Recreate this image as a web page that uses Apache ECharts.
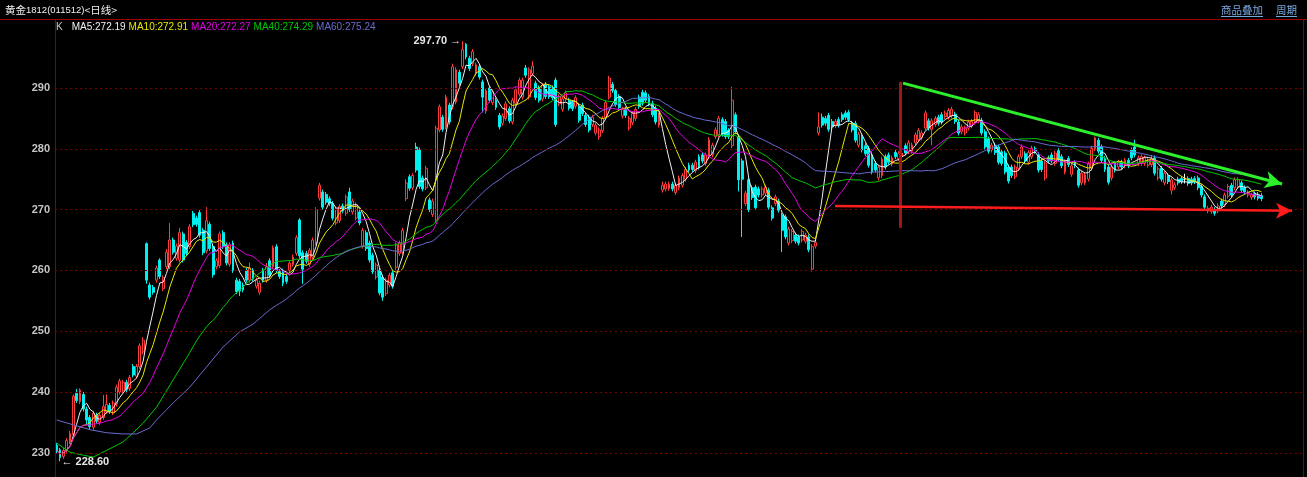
<!DOCTYPE html>
<html><head><meta charset="utf-8">
<script src="https://cdn.jsdelivr.net/npm/echarts/dist/echarts.min.js"></script>
<style>html,body{margin:0;padding:0;background:#000;}#c{width:1307px;height:477px;}</style>
</head><body><div id="c"></div><script>
// candle rows: [open, close, low, high]
const segStart = [
[231.2,230.4,229.8,231.6],[230.5,229.2,228.6,230.8],[229.4,230.4,229.0,230.8],[230.4,232.0,230.0,232.4],
[231.8,233.2,231.4,233.6],[233.0,239.3,232.8,239.6],[239.8,238.6,238.2,240.5],[238.4,240.3,238.0,240.6],
[239.6,237.2,236.8,240.0],[237.2,235.4,234.6,237.6],[235.8,234.3,233.8,236.2],[234.2,236.5,233.8,236.9],
[236.2,235.2,234.8,236.6],[235.0,236.2,234.6,236.6],[235.8,237.6,235.4,239.5],[236.8,238.0,236.4,239.6],
[237.8,236.8,236.4,238.2],[236.6,238.2,236.2,238.6],[238.0,240.8,237.6,241.2],[240.0,241.8,239.6,242.2],
[240.2,241.6,239.8,242.0],[241.6,240.4,239.8,242.0],[240.6,242.4,240.2,242.8],[244.2,242.8,242.4,244.6],
[242.6,244.2,242.2,244.6],[244.2,247.6,243.8,248.0],[246.6,248.5,246.2,249.0]
];
const segBreakout = [
[264.4,258.4,257.8,264.6],[257.6,255.6,255.2,258.0],[257.2,256.4,256.0,257.6],[258.4,260.4,258.0,260.8],
[261.7,259.0,258.6,262.0],[257.0,258.8,256.6,259.2],[260.6,263.0,260.2,263.5],[260.6,265.0,260.2,267.8],
[265.0,263.0,262.6,265.4],[262.0,264.0,261.6,264.4],[261.7,266.2,261.3,267.0],[266.0,261.7,261.3,266.4],
[264.6,262.8,262.4,265.0],[263.9,267.2,263.5,267.6],[269.4,267.5,267.1,269.8],[268.6,267.6,267.2,269.0],
[269.5,265.8,265.4,269.9],[266.6,262.9,262.5,267.0],[263.2,268.2,262.8,270.4],[267.6,263.6,263.2,268.0],
[263.9,259.3,258.8,264.3],[260.6,261.6,260.2,262.0],[260.8,266.0,260.4,266.4],[266.2,263.9,263.5,266.6],
[264.2,261.2,260.8,264.6],[261.0,264.2,260.6,264.6],[264.5,260.0,259.6,264.9],[258.4,256.5,256.1,258.8],
[258.2,256.6,255.8,258.6],[257.6,256.8,256.4,258.0],[260.0,258.4,258.0,260.4],[258.4,260.4,258.0,261.3],
[260.0,258.6,258.2,260.4],[257.4,258.4,257.0,258.8],[256.4,257.9,256.0,258.3],[260.0,258.4,258.0,260.4],
[258.4,260.6,258.0,261.2],[261.6,259.2,258.8,262.0],[260.6,263.7,260.2,264.1],[263.9,260.0,259.6,264.3]
];
const segBase = [
[259.8,259.0,258.6,260.2],[259.9,257.9,257.4,260.3],[259.0,258.2,257.8,259.4],[260.0,261.2,259.6,261.6],
[261.0,262.2,260.6,262.6],[262.8,265.4,262.4,265.8],[268.3,262.4,262.0,268.6],[262.9,260.2,257.8,263.3],
[262.8,261.5,261.1,263.2],[261.0,263.3,260.6,263.7],[262.2,265.0,261.8,265.4],[264.5,270.0,264.1,270.4],
[271.9,274.0,271.5,274.4],[272.9,270.4,270.0,273.3],[272.5,271.2,270.8,272.9],[271.8,271.0,270.6,272.2],
[271.0,268.6,268.2,271.4],[267.8,270.0,267.4,270.4],[268.2,270.5,267.8,270.9],[270.6,269.8,269.4,271.0],
[269.4,272.1,269.0,272.5],[272.9,270.0,269.6,273.6],[269.6,271.4,269.2,271.8],[268.6,270.8,268.2,271.2],
[269.6,267.8,267.4,270.0],[264.0,266.6,263.6,267.0],[266.2,263.6,263.2,266.6],[264.5,261.7,261.3,264.9],
[262.5,259.8,259.4,262.9],[258.9,260.9,258.5,261.3],[260.0,256.3,255.9,260.4],[258.9,255.6,255.0,259.3],
[256.2,258.4,255.8,258.8],[257.6,259.2,257.2,259.6],[259.6,257.4,257.0,260.0],[260.5,264.2,260.1,264.6],
[262.8,264.5,262.4,264.9],[263.0,266.6,262.6,267.0]
];
const segPeak = [
[271.8,274.4,271.4,275.0],[275.4,273.5,273.1,275.8],[273.6,275.6,273.2,276.0],[280.3,276.5,276.1,281.0],
[279.8,273.8,273.4,280.2],[275.2,273.4,273.0,275.6],[273.6,276.8,273.2,277.2],[271.6,270.0,269.6,272.0],
[269.2,271.4,268.8,271.8],[268.3,283.4,267.8,283.8],[283.1,286.9,282.7,287.3],[285.2,283.2,282.8,285.6],
[283.6,288.5,283.2,288.9],[287.2,284.4,284.0,287.6],[286.9,293.5,286.5,294.0],[287.7,293.0,287.3,293.4],
[292.6,290.8,290.4,293.0],[293.5,296.3,293.1,297.7],[297.2,295.1,294.7,297.4],[294.9,293.2,292.8,295.3],
[294.0,296.0,293.6,296.4],[292.4,293.8,292.0,294.2],[293.5,291.8,291.4,293.9],[291.0,288.5,286.0,291.4],
[286.2,289.6,285.8,290.0],[290.0,288.0,287.6,290.4],[287.6,289.4,287.2,289.8],[288.0,286.8,286.4,288.4],
[285.5,283.6,283.2,285.9],[284.2,285.4,283.8,285.8],[285.0,287.4,284.6,287.8],[286.6,284.6,284.2,287.0],
[284.4,288.0,284.0,288.4],[287.5,289.7,287.1,290.1],[289.0,291.3,288.6,291.7],[288.5,291.3,288.1,291.7],
[293.3,292.1,291.7,293.8],[288.5,293.0,288.1,293.4],[292.4,293.6,292.0,294.4],[290.8,288.4,288.0,291.2],
[290.0,288.0,287.6,290.4],[288.2,290.4,287.8,290.8],[290.6,288.6,288.2,291.0],[290.2,288.6,288.2,290.6],
[290.0,288.4,288.0,290.4],[291.3,284.0,283.6,291.7],[287.4,288.6,287.0,289.0],[286.5,288.2,286.1,288.6],
[288.2,289.2,287.8,289.6],[288.0,286.7,286.3,288.4],[287.6,286.6,286.2,288.0],[287.0,288.4,286.6,288.8],
[286.9,284.7,284.3,287.3],[287.2,285.8,285.4,287.6],[285.5,284.0,283.6,285.9],[285.2,283.1,282.7,285.6],
[284.0,285.2,283.6,285.6],[282.6,283.9,282.2,284.3],[282.0,283.1,281.5,283.5],[283.0,285.0,282.6,285.4],
[285.2,287.6,284.8,288.0],[288.5,291.6,288.1,292.0],[290.6,289.6,289.2,291.0],[289.6,287.3,286.9,290.0],
[288.6,286.8,286.4,289.0],[285.4,286.5,285.0,286.9],[286.5,285.5,285.1,286.9],[283.4,285.0,283.0,285.4],
[284.3,285.8,283.9,286.2],[285.0,286.5,284.6,286.9],[288.5,287.0,286.6,288.9],[289.3,287.5,287.1,289.7],
[289.2,288.0,287.6,289.6],[288.6,287.4,287.0,289.0],[287.5,285.6,285.2,287.9],[286.7,284.4,284.0,287.1],
[283.9,285.4,283.5,285.9]
];
const segGapLow = [
[273.2,274.0,272.8,274.6],[273.4,274.2,273.0,274.6],[273.5,274.2,273.1,274.6],[274.2,273.4,273.0,274.6],
[272.8,274.0,272.4,274.4],[273.6,275.2,273.2,275.6],[274.0,275.6,273.6,276.0],[275.0,276.6,274.6,277.0],
[277.3,276.5,276.1,277.7],[277.3,276.6,276.2,277.7],[276.4,277.8,276.0,278.2],[278.7,277.0,276.6,279.1],
[279.0,278.0,277.6,279.4],[277.6,279.0,277.2,279.4],[278.7,281.5,278.3,281.9],[279.0,280.6,278.6,281.0],
[282.0,283.1,281.6,283.5],[282.3,285.0,281.9,285.4],[284.8,282.4,282.0,285.2],[284.5,282.0,281.6,284.9],
[283.0,282.0,281.6,283.4],[280.5,288.0,280.1,290.2],[285.6,282.8,282.4,286.0],[282.0,274.9,273.0,282.4],
[278.0,275.0,265.5,278.4],[271.0,272.7,270.6,273.1],[274.9,270.0,269.6,275.3],[273.6,272.0,271.6,274.0],
[273.7,270.3,269.9,274.1],[273.4,272.4,272.0,273.8],[272.4,273.4,272.0,273.8],[272.7,273.7,272.3,274.1],
[273.2,270.4,270.0,273.6],[270.3,268.6,268.2,270.7],[271.0,272.1,270.6,272.5],[271.4,269.9,269.5,271.8],
[269.1,266.6,263.0,269.5],[268.8,265.5,265.1,269.2],[264.5,266.8,264.1,267.2],[264.9,266.4,264.5,266.8],
[265.8,264.8,264.4,266.2],[265.5,264.5,264.1,265.9],[265.0,266.4,264.6,266.8],[264.8,265.8,264.4,266.2],
[265.5,263.4,263.0,265.9],[260.2,263.9,259.8,264.3],[264.0,264.6,263.6,265.0]
];
const segRecovery = [
[282.6,283.6,282.2,286.0],[285.2,283.9,283.5,285.8],[285.0,284.2,283.8,285.4],[285.5,283.2,282.8,285.9],
[284.5,283.6,283.2,284.9],[283.8,284.5,283.4,284.9],[284.8,283.9,283.5,285.2],[285.6,284.8,284.4,286.0],
[285.9,285.2,284.8,286.3],[286.0,284.8,284.4,286.4],[284.2,283.1,282.7,284.6],[284.2,281.4,281.0,284.6],
[280.6,282.4,280.2,282.8],[282.0,279.8,279.4,282.4],[280.5,279.2,278.8,280.9],[280.1,277.3,276.9,280.5],
[279.0,276.2,275.8,279.4],[277.6,276.5,276.1,278.0],[275.2,277.0,274.8,277.4],[275.6,278.3,275.2,278.7],
[278.7,277.0,276.6,279.1],[279.0,277.8,277.4,279.4],[277.5,278.5,277.1,278.9],[279.4,278.7,278.3,279.8],
[278.4,279.2,278.0,279.6],[278.7,279.3,278.3,279.7],[280.5,279.3,278.9,280.9],[279.5,281.0,279.1,281.4],
[279.6,280.6,279.2,281.0],[281.0,282.3,280.6,282.7],[281.5,283.0,281.1,283.4],[281.8,282.6,281.4,283.0],
[283.4,285.9,283.0,286.3],[284.6,283.4,283.0,285.0],[283.2,284.6,280.6,285.0],[284.0,285.0,283.6,285.4],
[285.2,284.2,283.8,285.6],[285.6,284.4,284.0,286.0],[285.3,285.9,284.9,286.3],[285.2,286.3,284.8,286.7],
[285.4,286.5,285.0,286.9],[285.7,284.5,284.1,286.1],[284.4,282.6,282.2,284.8],[282.8,283.6,282.4,284.0],
[282.6,283.4,282.2,283.8],[283.4,284.4,283.0,284.8],[283.8,284.5,283.4,284.9],[284.4,286.0,284.0,286.3],
[284.6,285.6,284.2,286.0],[284.7,282.6,282.2,285.1],[282.8,280.3,279.9,283.2],[281.6,279.6,279.2,282.0],
[279.8,280.6,279.4,281.0],[280.6,279.4,279.0,281.0],[280.3,277.8,277.4,280.7],[279.5,277.6,277.2,279.9],
[279.3,276.2,275.8,279.7],[277.0,274.7,274.3,277.4],[277.0,275.6,275.2,277.4],[275.4,277.0,275.0,277.4],
[276.8,278.7,276.4,279.1],[278.7,280.3,278.3,280.7],[279.2,278.0,277.6,279.6],[277.8,279.4,277.4,279.8],
[278.7,280.1,278.3,280.5],[280.0,279.6,279.2,280.4],[279.0,276.5,276.1,279.4],[278.0,276.6,276.2,278.4],
[275.2,277.7,274.8,278.1],[278.5,278.0,277.6,278.9],[279.0,278.0,277.6,279.4],[277.6,279.3,277.2,279.7]
];
const segTail = [
[279.7,278.3,277.9,280.1],[278.7,277.2,276.8,279.1],[276.2,277.8,275.8,278.2],[278.4,277.4,277.0,278.8],
[275.8,277.2,275.4,277.6],[277.7,277.2,276.8,278.1],[276.5,274.0,273.6,276.9],[274.4,276.0,274.0,276.4],
[274.4,275.7,274.0,276.1],[275.0,277.5,274.6,277.9],[276.8,280.1,276.4,280.5],[280.0,281.8,279.6,282.0],
[281.4,279.6,279.2,281.8],[280.3,278.1,277.7,280.7],[278.4,276.6,276.2,278.8],[277.0,274.5,274.1,277.4],
[275.2,277.0,274.8,277.4],[277.6,276.5,276.1,278.0],[277.0,277.8,276.6,278.2],[277.8,277.0,276.6,278.2],
[277.2,278.1,276.8,278.5],[278.1,277.2,276.8,278.5],[279.8,278.5,278.1,280.2],[280.3,279.0,278.6,281.5],
[277.6,278.5,277.2,278.9],[277.6,278.7,277.2,279.1],[277.6,278.5,277.2,278.9],[277.3,278.2,276.9,278.6],
[277.4,278.4,277.0,279.0],[278.5,276.0,275.6,278.9],[275.2,276.7,274.8,277.1],[276.8,275.0,274.6,277.2],
[274.4,276.0,274.0,276.4],[275.6,274.6,274.2,276.0],[273.2,274.9,272.5,275.3],[273.6,274.1,273.2,274.5],
[275.0,274.4,274.0,275.4],[275.1,274.6,274.2,275.5],[275.0,275.0,274.3,275.9],[275.1,274.3,273.9,275.5],
[275.0,274.4,274.0,275.4],[275.1,274.6,274.2,275.5],[275.2,273.6,273.2,275.6],[273.8,272.4,272.0,274.2],
[272.1,270.4,270.0,272.5],[269.8,270.2,269.4,270.6],[269.7,270.4,269.3,270.8],[270.0,269.4,269.0,270.4],
[269.8,270.6,269.4,271.0],[271.4,270.6,270.2,271.8],[270.8,272.4,270.4,272.8],[272.2,273.8,271.8,274.2],
[274.0,272.4,272.0,274.4],[273.6,274.9,273.2,275.3],[273.8,274.9,273.4,275.3],[274.4,273.2,272.8,274.8],
[273.6,272.9,272.5,274.0],[272.4,272.8,272.0,273.2],[272.0,272.4,271.6,272.8],[272.6,272.1,271.7,273.0],
[272.5,271.9,271.5,272.9],[272.3,271.8,271.4,272.7]
];
const yTicks = [230, 240, 250, 260, 270, 280, 290];
const yMin = 226.02, yMax = 301.35;
const maPeriods = [5, 10, 20, 40, 60];
const maColors = ['#f0f0f0', '#e8e800', '#e600e6', '#00c800', '#6a6ad2'];
const headerLabels = ['MA5:272.19', 'MA10:272.91', 'MA20:272.27', 'MA40:274.29', 'MA60:275.24'];
// long averages before their window fills (history off-screen): [candle index, value]
const ma40Lead = [[0,231.6],[4,230.1],[8,229.6],[11,229.3],[15,230.4],[20,231.8],[23,233.3],[26,234.9],[30,237.5],[35,242.0]];
const ma60Lead = [[0,235.4],[10,233.8],[15,233.3],[20,233.1],[24,233.1],[28,234.1],[30,235.4],[35,238.2],[40,240.8],[45,244.1],[50,247.4],[55,249.9]];
// drawn annotations, in (candle index, price)
const trendLine = [[254.3, 290.8], [368.2, 274.2]];
const supportLine = [[233.9, 270.6], [371.2, 269.8]];
const markerLine = [[253.4, 291.0], [253.4, 267.0]];
const highPoint = [122, 297.7];
const lowPoint = [1, 228.6];
const slotCount = 375;

const candles = [].concat(segStart, segBreakout, segBase, segPeak, segGapLow, segRecovery, segTail);
const closes = candles.map(r => r[1]);
const cats = Array.from({length: slotCount}, (_, i) => String(i));
const leads = {40: ma40Lead, 60: ma60Lead};
function ma(n) {
  const lead = leads[n];
  const leadMap = {};
  if (lead) lead.forEach(p => leadMap[p[0]] = p[1]);
  return closes.map((_, i) => {
    if (lead && i < n - 1) return leadMap[i] !== undefined ? leadMap[i] : null;
    const s = Math.max(0, i - n + 1); let sum = 0;
    for (let k = s; k <= i; k++) sum += closes[k];
    return +(sum / (i - s + 1)).toFixed(2);
  });
}
const chart = echarts.init(document.getElementById('c'));
const maSeries = maPeriods.map((p, k) => ({
  type: 'line', data: ma(p), showSymbol: false, symbol: 'none', smooth: false, z: 4, connectNulls: true,
  lineStyle: {width: 1, color: maColors[k]}, silent: true, animation: false
}));
const rich = {k: {fill: '#c8c8c8', fontSize: 10, fontFamily: 'Arial', padding: [0, 9, 0, 0]}};
headerLabels.forEach((t, k) => rich['m' + k] = {fill: maColors[k], fontSize: 10, fontFamily: 'Arial', padding: [0, 3, 0, 0]});
const headerText = '{k|K}' + headerLabels.map((t, k) => '{m' + k + '|' + t + '}').join('');
const titleRich = {
  c: {fill: '#f0f0f0', fontSize: 10.5, fontFamily: 'Noto Sans CJK SC'},
  a: {fill: '#f0f0f0', fontSize: 9.5, fontFamily: 'Arial'}
};
const axisLineColor = '#8a0000';
chart.setOption({
  backgroundColor: '#000',
  animation: false,
  grid: {left: 55, right: 4, top: 19, bottom: 0},
  xAxis: [
    {type: 'category', data: cats, boundaryGap: true, show: false},
    {type: 'value', min: -0.5, max: slotCount - 0.5, show: false, position: 'top'}
  ],
  yAxis: {
    type: 'value', min: yMin, max: yMax,
    axisLine: {show: false}, axisTick: {show: false}, splitLine: {show: false},
    axisLabel: {customValues: yTicks, color: '#c4c4c4', fontSize: 11, fontWeight: 'bold', fontFamily: 'Arial', margin: 5,
      formatter: v => yTicks.indexOf(v) >= 0 ? String(v) : ''}
  },
  series: [
    {type: 'line', xAxisIndex: 1, data: [], z: 1, silent: true,
      markLine: {silent: true, symbol: 'none', label: {show: false},
        lineStyle: {type: [2, 3], color: '#7a0000', width: 1},
        data: yTicks.map(v => ({yAxis: v}))}},
    {type: 'candlestick', data: candles, barWidth: 2.4, z: 3,
      itemStyle: {color: '#000', color0: '#00f0f0', borderColor: '#ff3a3a', borderColor0: '#00f0f0', borderColorDoji: '#ffffff', borderWidth: 1},
      markPoint: {symbol: 'circle', symbolSize: 1, itemStyle: {color: 'rgba(0,0,0,0)'},
        data: [
          {coord: highPoint, label: {show: true, position: 'left', distance: 1, formatter: highPoint[1].toFixed(2) + ' →', color: '#e6e6e6', fontSize: 11, fontWeight: 'bold', fontFamily: 'Arial'}},
          {coord: lowPoint, label: {show: true, position: 'right', distance: 1, offset: [0, 1], formatter: '← ' + lowPoint[1].toFixed(2), color: '#e6e6e6', fontSize: 11, fontWeight: 'bold', fontFamily: 'Arial'}}
        ]}},
    ...maSeries,
    {type: 'line', xAxisIndex: 1, data: trendLine, z: 6, silent: true, showSymbol: false, lineStyle: {opacity: 0},
      markLine: {silent: true, symbol: ['none', 'none'], label: {show: false}, animation: false,
        data: [
          [{coord: markerLine[0], lineStyle: {color: '#a31616', width: 3, type: 'solid'}}, {coord: markerLine[1]}],
          [{coord: trendLine[0], symbol: 'none', lineStyle: {color: '#2bf02b', width: 3, type: 'solid'}}, {coord: trendLine[1], symbol: 'arrow', symbolSize: [13, 17]}],
          [{coord: supportLine[0], symbol: 'none', lineStyle: {color: '#ff1c1c', width: 2.5, type: 'solid'}}, {coord: supportLine[1], symbol: 'arrow', symbolSize: [12, 16]}]
        ]}}
  ],
  graphic: [
    {type: 'rect', shape: {x: 0, y: 0, width: 1307, height: 19}, style: {fill: '#000'}, z: 100},
    {type: 'line', shape: {x1: 0, y1: 19.5, x2: 1307, y2: 19.5}, style: {stroke: '#a00000', lineWidth: 1}, z: 101},
    {type: 'line', shape: {x1: 55.5, y1: 19.5, x2: 55.5, y2: 477}, style: {stroke: axisLineColor, lineWidth: 1}, z: 101},
    {type: 'line', shape: {x1: 1303.5, y1: 19.5, x2: 1303.5, y2: 477}, style: {stroke: axisLineColor, lineWidth: 1}, z: 101},
    {type: 'text', x: 5, y: 10, style: {text: '{c|黄金}{a|1812(011512)}{c|<日线>}', rich: titleRich, fill: '#f0f0f0', textVerticalAlign: 'middle'}, z: 102},
    {type: 'text', x: 1221, y: 10, style: {text: '商品叠加', fill: '#7aa8e0', font: '10.5px "Noto Sans CJK SC"', textVerticalAlign: 'middle'}, z: 102},
    {type: 'line', shape: {x1: 1221, y1: 16.5, x2: 1263, y2: 16.5}, style: {stroke: '#7aa8e0', lineWidth: 1}, z: 102},
    {type: 'text', x: 1276, y: 10, style: {text: '周期', fill: '#7aa8e0', font: '10.5px "Noto Sans CJK SC"', textVerticalAlign: 'middle'}, z: 102},
    {type: 'line', shape: {x1: 1276, y1: 16.5, x2: 1297, y2: 16.5}, style: {stroke: '#7aa8e0', lineWidth: 1}, z: 102},
    {type: 'text', x: 56, y: 27, style: {text: headerText, rich: rich, fill: '#c8c8c8', font: '10px Arial', textVerticalAlign: 'middle'}, z: 102}
  ]
});
</script></body></html>
